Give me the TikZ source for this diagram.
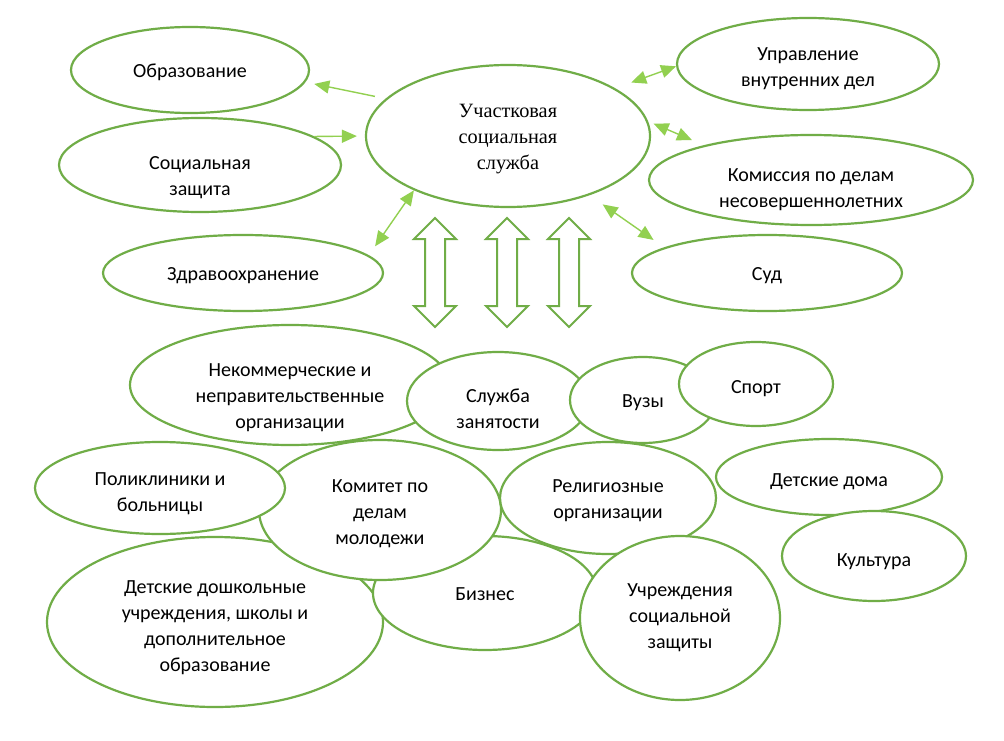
\documentclass[tikz,border=0pt]{standalone}
\usepackage{fontspec}
\setmainfont{Carlito}
\newfontfamily\timesru{Liberation Serif}
\usetikzlibrary{shapes,arrows.meta,positioning}
\definecolor{ovalgreen}{RGB}{112,173,71}
\definecolor{linkgreen}{RGB}{146,208,80}
\newcommand{\ovaltext}[2][-7pt]{\raisebox{#1}[0pt][0pt]{\begin{tabular}{@{}c@{}}#2\end{tabular}}}

\begin{document}
\begin{tikzpicture}[x=1pt, y=-1pt,
    oval/.style={ellipse, draw=ovalgreen, line width=2.2pt, fill=white, inner sep=0pt, font=\fontsize{20}{26}\selectfont},
    link/.style={draw=linkgreen, line width=1.4pt, -{Triangle[length=15pt,width=13pt]}},
    dlink/.style={link, {Triangle[length=15pt,width=13pt]}-{Triangle[length=15pt,width=13pt]}},
    bigarrow/.style={double arrow, draw=ovalgreen, line width=2pt, fill=white, rotate=90, minimum height=109pt, inner sep=9pt, double arrow head extend=11pt}
]

\fill[white] (0,0) rectangle (1004,741);
\useasboundingbox (0,0) rectangle (1004,741);

% Участковая служба и её партнёры
\node[oval, minimum width=284pt, minimum height=142pt, font=\timesru\fontsize{20.3}{26}\selectfont] (uch) at (508,136) {\ovaltext[-7pt]{Участковая\\социальная\\служба}};
\node[oval, minimum width=238pt, minimum height=86pt] (obr) at (190,70) {\ovaltext{Образование}};
\node[oval, minimum width=282pt, minimum height=94pt] (soc) at (200,165) {\ovaltext[-17.5pt]{Социальная\\защита}};
\node[oval, minimum width=280pt, minimum height=76pt] (zdr) at (243,273) {\ovaltext{Здравоохранение}};
\node[oval, minimum width=262pt, minimum height=92pt] (upr) at (808,64) {\ovaltext[-9.5pt]{Управление\\внутренних дел}};
\node[oval, minimum width=324pt, minimum height=90pt] (kom) at (811,180) {\ovaltext[-14pt]{Комиссия по делам\\несовершеннолетних}};
\node[oval, minimum width=270pt, minimum height=76pt] (sud) at (767,273) {\ovaltext{Суд}};

% Стрелки
\draw[link] (uch.163) -- (obr.-6) [shorten <=11pt, shorten >=9pt];
\draw[link] (soc.14) -- (uch.180.5) [shorten >=8pt];
\draw[dlink] (uch.-150) -- (zdr.8.5) [shorten >=11pt];
\draw[dlink] (uch.24) -- (upr.181) [shorten <=17pt];
\draw[dlink] (uch.6) -- (kom.162) [shorten <=6pt, shorten >=13pt];
\draw[dlink] (uch.-36) -- (sud.166) [shorten <=16pt, shorten >=13pt];

% Двойные стрелки
\node[bigarrow] (dar1) at (435,272.5) {};
\node[bigarrow] (dar2) at (507,272.5) {};
\node[bigarrow] (dar3) at (569,272.5) {};

% Нижняя группа
\node[oval, minimum width=320pt, minimum height=120pt] (nko) at (290,385) {\ovaltext[-17.5pt]{Некоммерческие и\\неправительственные\\организации}};
\node[oval, minimum width=182pt, minimum height=98pt] (szan) at (498,401) {\ovaltext[-14.5pt]{Служба\\занятости}};
\node[oval, minimum width=146pt, minimum height=86pt] (vuz) at (643,400) {\ovaltext[-7.5pt]{Вузы}};
\node[oval, minimum width=154pt, minimum height=84pt] (sport) at (756,384) {\ovaltext[-9pt]{Спорт}};
\node[oval, minimum width=336pt, minimum height=170pt] (ddou) at (215,622) {\ovaltext[-10.5pt]{Детские дошкольные\\учреждения, школы и\\дополнительное\\образование}};
\node[oval, minimum width=224pt, minimum height=114pt] (biz) at (485,593) {\ovaltext[-7.5pt]{Бизнес}};
\node[oval, minimum width=242pt, minimum height=140pt] (komol) at (380,510) {\ovaltext[-8.5pt]{Комитет по\\делам\\молодежи}};
\node[oval, minimum width=250pt, minimum height=92pt] (polik) at (160,488) {\ovaltext[-10.5pt]{Поликлиники и\\больницы}};
\node[oval, minimum width=216pt, minimum height=112pt] (relig) at (608,498) {\ovaltext[-7.5pt]{Религиозные\\организации}};
\node[oval, minimum width=200pt, minimum height=164pt] (uszn) at (680,618) {\ovaltext[-4.5pt]{Учреждения\\социальной\\защиты}};
\node[oval, minimum width=226pt, minimum height=76pt] (ddom) at (829,477) {\ovaltext[-9pt]{Детские дома}};
\node[oval, minimum width=184pt, minimum height=90pt] (kult) at (874,556) {\ovaltext[-10pt]{Культура}};

\end{tikzpicture}
\end{document}
